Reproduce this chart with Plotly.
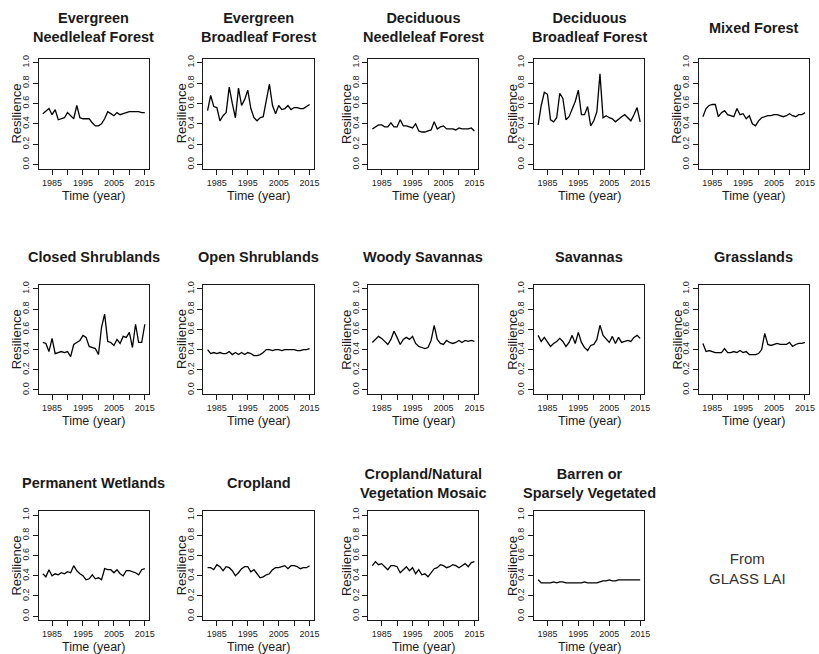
import plotly.graph_objects as go

years = list(range(1982, 2016))

titles = [
    "Evergreen<br>Needleleaf Forest", "Evergreen<br>Broadleaf Forest",
    "Deciduous<br>Needleleaf Forest", "Deciduous<br>Broadleaf Forest",
    "Mixed Forest",
    "Closed Shrublands", "Open Shrublands", "Woody Savannas", "Savannas", "Grasslands",
    "Permanent Wetlands", "Cropland",
    "Cropland/Natural<br>Vegetation Mosaic", "Barren or<br>Sparsely Vegetated",
]

evergreen_needleleaf = [0.50, 0.53, 0.55, 0.49, 0.54, 0.44, 0.45, 0.46, 0.51, 0.48, 0.45, 0.58, 0.46, 0.45, 0.45, 0.45, 0.41,
                        0.38, 0.38, 0.40, 0.45, 0.52, 0.50, 0.48, 0.51, 0.49, 0.50, 0.51, 0.52, 0.52, 0.52, 0.52, 0.51, 0.51]
evergreen_broadleaf = [0.53, 0.68, 0.57, 0.56, 0.43, 0.48, 0.51, 0.76, 0.60, 0.46, 0.75, 0.58, 0.64, 0.73, 0.55, 0.46, 0.43,
                       0.46, 0.47, 0.62, 0.79, 0.58, 0.50, 0.58, 0.54, 0.55, 0.58, 0.54, 0.56, 0.56, 0.55, 0.55, 0.57, 0.59]
deciduous_needleleaf = [0.35, 0.37, 0.39, 0.39, 0.37, 0.37, 0.41, 0.37, 0.37, 0.44, 0.38, 0.38, 0.37, 0.36, 0.40, 0.33, 0.32,
                        0.32, 0.33, 0.34, 0.42, 0.35, 0.37, 0.38, 0.35, 0.35, 0.35, 0.34, 0.36, 0.35, 0.35, 0.35, 0.36, 0.33]
deciduous_broadleaf = [0.39, 0.58, 0.71, 0.69, 0.44, 0.42, 0.46, 0.70, 0.65, 0.44, 0.47, 0.55, 0.62, 0.73, 0.49, 0.49, 0.57,
                       0.38, 0.43, 0.52, 0.89, 0.46, 0.48, 0.46, 0.45, 0.42, 0.45, 0.47, 0.49, 0.46, 0.43, 0.49, 0.56, 0.42]
mixed_forest = [0.47, 0.55, 0.58, 0.59, 0.59, 0.47, 0.51, 0.53, 0.49, 0.48, 0.47, 0.55, 0.49, 0.50, 0.45, 0.48, 0.40,
                0.38, 0.43, 0.46, 0.47, 0.48, 0.48, 0.49, 0.49, 0.48, 0.47, 0.48, 0.50, 0.48, 0.47, 0.49, 0.49, 0.51]
closed_shrublands = [0.47, 0.46, 0.38, 0.51, 0.36, 0.37, 0.38, 0.37, 0.38, 0.33, 0.45, 0.47, 0.49, 0.54, 0.52, 0.43, 0.42,
                     0.41, 0.35, 0.62, 0.75, 0.48, 0.47, 0.44, 0.50, 0.46, 0.53, 0.52, 0.57, 0.42, 0.65, 0.47, 0.47, 0.65]
open_shrublands = [0.40, 0.36, 0.37, 0.36, 0.37, 0.36, 0.36, 0.38, 0.35, 0.37, 0.35, 0.37, 0.35, 0.37, 0.36, 0.34, 0.34,
                   0.35, 0.37, 0.40, 0.40, 0.39, 0.40, 0.40, 0.39, 0.40, 0.40, 0.40, 0.40, 0.39, 0.39, 0.40, 0.40, 0.41]
woody_savannas = [0.47, 0.50, 0.53, 0.51, 0.48, 0.45, 0.50, 0.58, 0.52, 0.45, 0.50, 0.52, 0.50, 0.53, 0.46, 0.43, 0.42,
                  0.41, 0.42, 0.49, 0.64, 0.50, 0.46, 0.45, 0.49, 0.47, 0.46, 0.47, 0.49, 0.47, 0.49, 0.48, 0.49, 0.48]
savannas = [0.54, 0.48, 0.52, 0.47, 0.43, 0.46, 0.48, 0.51, 0.48, 0.43, 0.47, 0.54, 0.46, 0.57, 0.47, 0.42, 0.39,
            0.44, 0.45, 0.50, 0.64, 0.54, 0.50, 0.47, 0.53, 0.46, 0.52, 0.47, 0.48, 0.49, 0.48, 0.52, 0.54, 0.51]
grasslands = [0.46, 0.38, 0.39, 0.38, 0.37, 0.37, 0.37, 0.41, 0.37, 0.37, 0.38, 0.37, 0.39, 0.37, 0.38, 0.35, 0.35,
              0.35, 0.36, 0.40, 0.56, 0.45, 0.44, 0.45, 0.46, 0.45, 0.45, 0.45, 0.47, 0.43, 0.45, 0.46, 0.46, 0.47]
permanent_wetlands = [0.42, 0.39, 0.46, 0.40, 0.42, 0.41, 0.43, 0.42, 0.44, 0.43, 0.50, 0.45, 0.42, 0.40, 0.36, 0.37, 0.41,
                      0.37, 0.38, 0.36, 0.47, 0.46, 0.46, 0.43, 0.46, 0.42, 0.40, 0.45, 0.45, 0.44, 0.43, 0.41, 0.46, 0.47]
cropland = [0.48, 0.48, 0.46, 0.51, 0.49, 0.45, 0.49, 0.48, 0.45, 0.40, 0.43, 0.47, 0.49, 0.49, 0.44, 0.46, 0.42,
            0.38, 0.39, 0.41, 0.42, 0.46, 0.48, 0.48, 0.49, 0.50, 0.47, 0.50, 0.50, 0.49, 0.47, 0.48, 0.48, 0.50]
cropland_mosaic = [0.50, 0.54, 0.51, 0.52, 0.49, 0.46, 0.50, 0.50, 0.49, 0.43, 0.46, 0.49, 0.45, 0.48, 0.42, 0.46, 0.41,
                   0.42, 0.39, 0.43, 0.47, 0.48, 0.51, 0.50, 0.48, 0.49, 0.51, 0.50, 0.48, 0.50, 0.52, 0.49, 0.53, 0.54]
barren = [0.36, 0.33, 0.33, 0.33, 0.33, 0.34, 0.33, 0.34, 0.34, 0.33, 0.33, 0.33, 0.33, 0.33, 0.33, 0.34, 0.33,
          0.33, 0.33, 0.33, 0.34, 0.35, 0.35, 0.36, 0.35, 0.35, 0.36, 0.36, 0.36, 0.36, 0.36, 0.36, 0.36, 0.36]

series = [evergreen_needleleaf, evergreen_broadleaf, deciduous_needleleaf, deciduous_broadleaf, mixed_forest,
          closed_shrublands, open_shrublands, woody_savannas, savannas, grasslands,
          permanent_wetlands, cropland, cropland_mosaic, barren]

x_tickvals = [1985, 1990, 1995, 2000, 2005, 2010, 2015]
x_ticktext = ["1985", "", "1995", "", "2005", "", "2015"]
y_tickvals = [0.0, 0.2, 0.4, 0.6, 0.8, 1.0]
y_ticktext = ["0.0", "0.2", "0.4", "0.6", "0.8", "1.0"]

W, H = 819, 654
col_left = [39, 205, 371, 538, 704]
box_w = 111
rows = [(55, 166), (283, 393), (511, 621)]
title_gap = [31, 28, 28]

FONT = "Liberation Sans, Arial, sans-serif"
INK = "#1a1a1a"


def px_x(v):
    return v / W


def px_y(v):
    return 1 - v / H


fig = go.Figure()
layout = {}
annotations = []

for i, (name, vals) in enumerate(zip(titles, series)):
    r, c = divmod(i, 5)
    left = col_left[c]
    right = left + box_w
    top, bottom = rows[r]
    k = "" if i == 0 else str(i + 1)

    fig.add_trace(go.Scatter(
        x=years, y=vals, mode="lines",
        line=dict(color="black", width=1.3),
        xaxis="x" + k, yaxis="y" + k, showlegend=False, hoverinfo="skip",
    ))

    layout["xaxis" + k] = dict(
        domain=[px_x(left), px_x(right)], anchor="y" + k,
        range=[1980.68, 2016.32], tickvals=x_tickvals, ticktext=x_ticktext,
        ticks="outside", ticklen=5, tickwidth=1, tickcolor=INK,
        showline=True, linecolor=INK, linewidth=1, mirror=True,
        showgrid=False, zeroline=False,
        tickfont=dict(family=FONT, size=9, color=INK),
    )
    layout["yaxis" + k] = dict(
        domain=[px_y(bottom), px_y(top)], anchor="x" + k,
        range=[-0.04, 1.04], tickvals=y_tickvals, ticktext=y_ticktext,
        ticks="outside", ticklen=5, tickwidth=1, tickcolor=INK, tickangle=-90,
        showline=True, linecolor=INK, linewidth=1, mirror=True,
        showgrid=False, zeroline=False,
        tickfont=dict(family=FONT, size=9, color=INK),
    )

    cx = (left + right) / 2
    annotations.append(dict(
        text="<b>" + name + "</b>", x=px_x(cx), y=px_y(top - title_gap[r]),
        xref="paper", yref="paper", xanchor="center", yanchor="middle",
        showarrow=False, font=dict(family=FONT, size=14.5, color=INK),
    ))
    annotations.append(dict(
        text="Time (year)", x=px_x(cx), y=px_y(bottom + 27),
        xref="paper", yref="paper", xanchor="center", yanchor="middle",
        showarrow=False, font=dict(family=FONT, size=12.5, color=INK),
    ))
    annotations.append(dict(
        text="Resilience", x=px_x(left - 22), y=px_y((top + bottom) / 2),
        xref="paper", yref="paper", xanchor="center", yanchor="middle",
        textangle=-90, showarrow=False, font=dict(family=FONT, size=13, color=INK),
    ))

annotations.append(dict(
    text="From<br>GLASS LAI", x=px_x(753), y=px_y(569),
    xref="paper", yref="paper", xanchor="center", yanchor="middle",
    showarrow=False, font=dict(family=FONT, size=15, color="#333333"),
))

fig.update_layout(
    width=W, height=H,
    margin=dict(l=0, r=0, t=0, b=0),
    paper_bgcolor="white", plot_bgcolor="white",
    annotations=annotations,
    **layout,
)

fig.write_html("out.html")
